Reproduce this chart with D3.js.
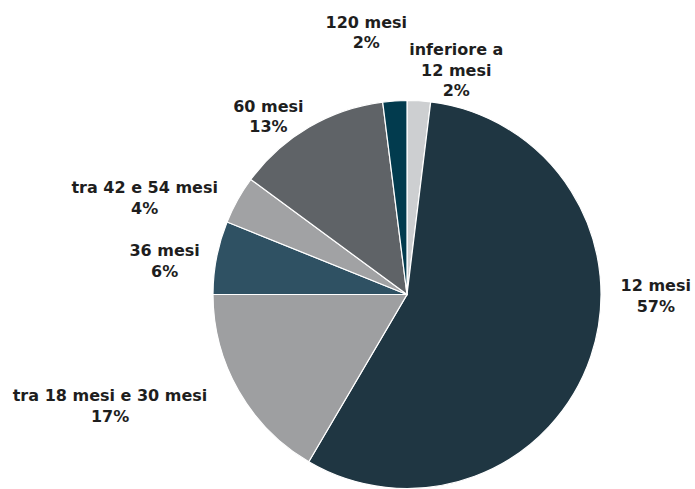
<!DOCTYPE html>
<html>
<head>
<meta charset="utf-8">
<title>Durata</title>
<script src="https://cdn.jsdelivr.net/npm/d3@7/dist/d3.min.js"></script>
<style>
  body { margin: 0; background: #fff; }
  text { font-family: "DejaVu Sans", sans-serif; font-weight: bold; font-size: 16px; fill: #1e1e1e; }
</style>
</head>
<body>
<div id="chart"></div>
<script>
// slices, clockwise from 12 o'clock
var categories = ["inferiore a\n12 mesi", "12 mesi", "tra 18 mesi e 30 mesi", "36 mesi", "tra 42 e 54 mesi", "60 mesi", "120 mesi"];
var values = [1.95, 56.5, 16.55, 6.1, 4.0, 12.9, 2.0];
var colors = ["#cdcfd1", "#1f3642", "#9e9fa1", "#2f5163", "#a1a2a4", "#5f6367", "#023b4e"];

// label nudges (layout only), relative to the mid-angle point at labelRadius
var labelNudge = [[34, 25], [12, -79], [-80, -13], [3, 14], [-44, 25], [-12, 37], [-25, -13]];

var width = 695, height = 489,
    cx = 407, cy = 294.5,
    radius = 194,
    labelRadius = 250,
    lineH = 20.5;

var svg = d3.select("#chart").append("svg")
    .attr("width", width)
    .attr("height", height);

var g = svg.append("g")
    .attr("transform", "translate(" + cx + "," + cy + ")");

var pie = d3.pie().sort(null).value(function(d) { return d; });
var arcs = pie(values);

var arc = d3.arc().innerRadius(0).outerRadius(radius);
var labelArc = d3.arc().innerRadius(labelRadius).outerRadius(labelRadius);

g.selectAll(".slice")
  .data(arcs)
  .enter().append("path")
  .attr("class", "slice")
  .attr("d", arc)
  .style("fill", function(d, i) { return colors[i]; })
  .style("stroke", "#fff")
  .style("stroke-width", 1.2);

var labels = g.selectAll(".lbl")
  .data(arcs)
  .enter().append("text")
  .attr("class", "lbl")
  .style("text-anchor", "middle")
  .each(function(d, i) {
    var lines = categories[i].split("\n").concat([Math.round(d.value) + "%"]);
    var c = labelArc.centroid(d);
    var x = c[0] + labelNudge[i][0];
    var yc = c[1] + labelNudge[i][1];
    // vertically centre the block of lines on yc (cap height ~11.7)
    var top = yc - ((lines.length - 1) * lineH + 11.7) / 2 + 11.7;
    var t = d3.select(this);
    lines.forEach(function(s, k) {
      t.append("tspan")
        .attr("x", x)
        .attr("y", top + k * lineH)
        .text(s);
    });
  });
</script>
</body>
</html>
